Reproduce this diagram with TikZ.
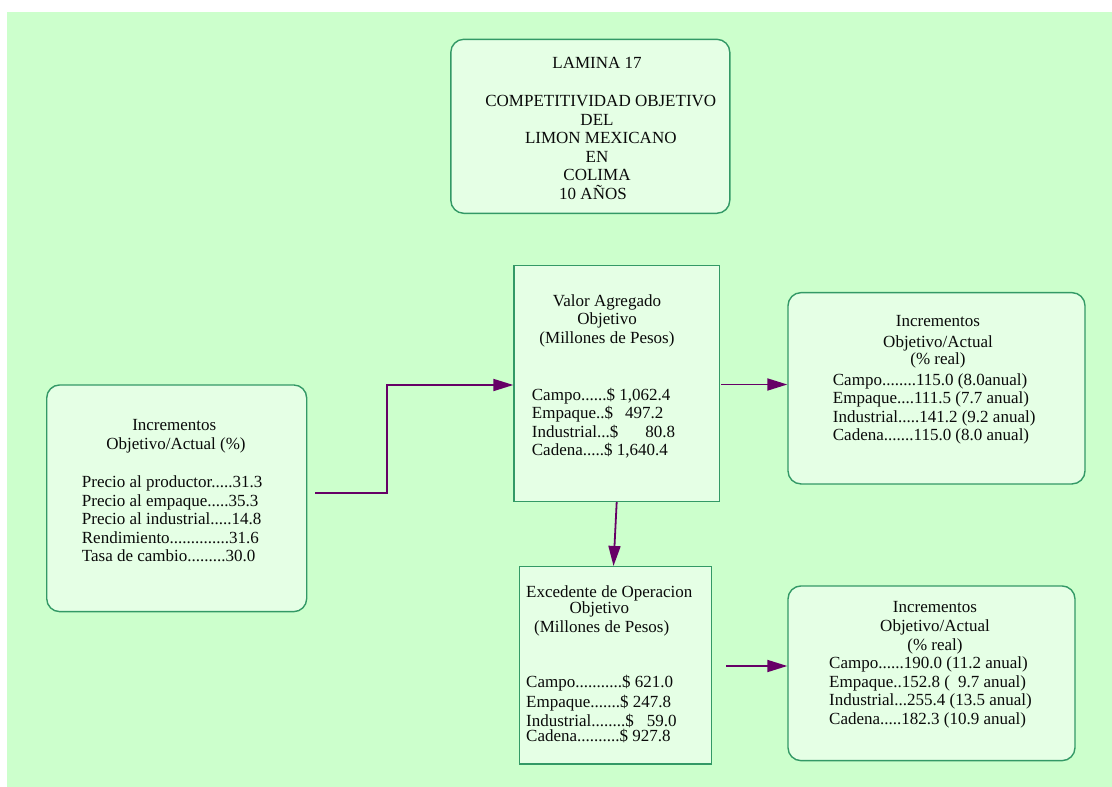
\documentclass[tikz,border=0pt]{standalone}
\usepackage{fontspec}
\setmainfont{Liberation Serif}
\usetikzlibrary{arrows.meta}
\definecolor{bg}{HTML}{CCFFCC}
\definecolor{boxfill}{HTML}{E5FFE5}
\definecolor{boxline}{HTML}{339966}
\definecolor{arrc}{HTML}{660066}
\definecolor{txt}{HTML}{0A0A0A}
\tikzset{
  basebox/.style={draw=boxline, fill=boxfill, line width=1.4pt, inner sep=0pt},
  rbox/.style={basebox, rounded corners=13pt},
  sbox/.style={basebox},
  txtc/.style={inner sep=0pt, text=txt, font=\fontsize{17}{18.5}\selectfont, align=center, anchor=north},
  txtl/.style={inner sep=0pt, text=txt, font=\fontsize{17}{18.5}\selectfont, align=left, anchor=north west},
  arr/.style={draw=arrc, line width=1.8pt, -{Triangle[length=20pt,width=12pt]}}
}
\begin{document}
\begin{tikzpicture}[x=1pt,y=-1pt]
\useasboundingbox (0,0) rectangle (1112,787);
\fill[white] (0,0) rectangle (1112,787);
\fill[bg] (7,12) rectangle (1112,787);

% boxes
\node[rbox, minimum width=279pt, minimum height=174pt] (title) at (590.3,126.3) {};
\node[rbox, minimum width=260pt, minimum height=226.7pt] (left) at (176.7,498.3) {};
\node[sbox, minimum width=205.3pt, minimum height=235.6pt] (va) at (616.7,383.5) {};
\node[rbox, minimum width=297pt, minimum height=191.3pt] (rt) at (936.5,388.3) {};
\node[sbox, minimum width=192.4pt, minimum height=197.3pt] (exc) at (615.5,665.3) {};
\node[rbox, minimum width=287pt, minimum height=174.7pt] (rb) at (931.5,673.3) {};

% title text
\node[txtc] (titletxt) at (597,57.5) {LAMINA 17\\[19.5pt]\hspace*{7.6pt}COMPETITIVIDAD OBJETIVO\\DEL\hspace*{4pt}\\\hspace*{7.6pt}LIMON MEXICANO\\EN\hspace*{6.4pt}\\COLIMA\hspace*{4pt}\\10 AÑOS\hspace*{8pt}};

% left box
\node[txtc] (lefthead) at (176,419.5) {Incrementos\hspace*{3.4pt}\\Objetivo/Actual (\%)};
\node[txtl] (leftdata) at (81.7,475.5) {Precio al productor.....31.3\\Precio al empaque.....35.3\\Precio al industrial.....14.8\\Rendimiento..............31.6\\Tasa de cambio.........30.0};

% valor agregado
\node[txtc] (vahead) at (607,294.5) {Valor Agregado\\Objetivo\hspace*{6pt}\\(Millones de Pesos)};
\node[txtl] (vadata) at (531.7,387.8) {Campo......\$ 1,062.4\\Empaque..\$\hspace{12pt}497.2\\Industrial...\$\hspace{27pt}80.8\\Cadena.....\$ 1,640.4};

% right top
\node[txtc] (rthead) at (938,315.2) {Incrementos\\[2pt]Objetivo/Actual\\[-0.8pt](\% real)};
\node[txtl] (rtdata) at (832.7,373.5) {Campo........115.0 (8.0anual)\\Empaque....111.5 (7.7 anual)\\Industrial.....141.2 (9.2 anual)\\Cadena.......115.0 (8.0 anual)};

% excedente
\node[txtl] (exchead) at (526,585.2) {Excedente de Operacion\\[-1.9pt]\hspace*{43.3pt}Objetivo\\\hspace*{8pt}(Millones de Pesos)};
\node[txtl] (excdata) at (526,674.5) {Campo...........\$ 621.0\\[1.5pt]Empaque.......\$ 247.8\\[0.5pt]Industrial........\$\hspace{13pt}59.0\\[-3.5pt]Cadena..........\$ 927.8};

% right bottom
\node[txtc] (rbhead) at (935,600.8) {Incrementos\\[0.9pt]Objetivo/Actual\\(\% real)};
\node[txtl] (rbdata) at (829,656.8) {Campo......190.0 (11.2 anual)\\Empaque..152.8 (\hspace{8pt}9.7 anual)\\Industrial...255.4 (13.5 anual)\\Cadena.....182.3 (10.9 anual)};

% connectors
\coordinate (a1s) at (315,493);
\coordinate (a1m) at (387,385);
\draw[arr] (a1s) -| (a1m) -- (a1m -| va.west);
\draw[arr] (va.south) -- ([xshift=-2pt]exc.north);
\coordinate (a3s) at (721,384.5);
\draw[arr] (a3s) -- (a3s -| rt.west);
\coordinate (a4s) at (726,666);
\draw[arr] (a4s) -- (a4s -| rb.west);
\end{tikzpicture}
\end{document}
